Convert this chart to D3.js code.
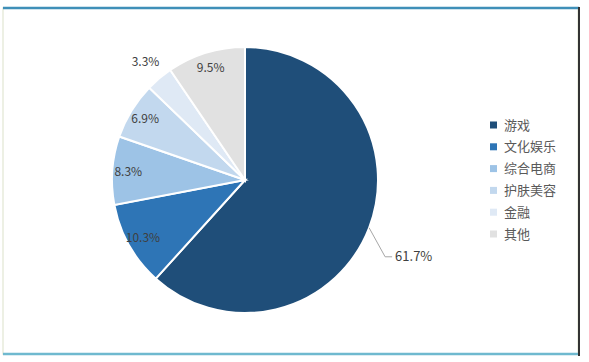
<!DOCTYPE html>
<html>
<head>
<meta charset="utf-8">
<script src="https://cdn.jsdelivr.net/npm/d3@7/dist/d3.min.js"></script>
<style>
  body { margin: 0; background: #fff; font-family: "Noto Sans CJK SC", "DejaVu Sans", sans-serif; }
  .pct { font-size: 12px; fill: #404040; }
  .legend text { font-size: 13px; fill: #595959; }
</style>
</head>
<body>
<div id="chart"></div>
<script>
  // 数据
  const categories = ['游戏', '文化娱乐', '综合电商', '护肤美容', '金融', '其他'];
  const values = [61.7, 10.3, 8.3, 6.9, 3.3, 9.5];
  const colors = ['#1f4e79', '#2e75b6', '#9dc3e6', '#c2d8ee', '#dfe9f5', '#e1e1e1'];

  const width = 589, height = 362;
  const cx = 245, cy = 180, R = 133;

  const svg = d3.select('#chart').append('svg')
    .attr('width', width)
    .attr('height', height);

  // 外框
  svg.append('rect').attr('x', 3).attr('y', 8).attr('width', 575).attr('height', 346)
    .attr('fill', '#fff').attr('stroke', '#e8ecdc').attr('stroke-width', 1.5);
  svg.append('line').attr('x1', 3).attr('x2', 579).attr('y1', 8).attr('y2', 8)
    .attr('stroke', '#3f8fb8').attr('stroke-width', 2.5);
  svg.append('line').attr('x1', 3).attr('x2', 579).attr('y1', 354).attr('y2', 354)
    .attr('stroke', '#6fb9cf').attr('stroke-width', 2.5);
  svg.append('line').attr('x1', 579).attr('x2', 579).attr('y1', 7).attr('y2', 356)
    .attr('stroke', '#333').attr('stroke-width', 2);

  const pie = d3.pie().sort(null).value(d => d);
  const arcs = pie(values);
  const arc = d3.arc().innerRadius(0).outerRadius(R);

  const g = svg.append('g').attr('transform', `translate(${cx},${cy})`);

  g.selectAll('path')
    .data(arcs)
    .enter().append('path')
    .attr('d', arc)
    .attr('fill', (d, i) => colors[i])
    .attr('stroke', '#fff')
    .attr('stroke-width', 2);

  // 标签
  function polar(a, r) { return [r * Math.sin(a), -r * Math.cos(a)]; }

  arcs.forEach((d, i) => {
    const mid = (d.startAngle + d.endAngle) / 2;
    const txt = values[i].toFixed(1) + '%';
    if (i === 0) {
      // 引导线
      const p0 = polar(mid, R);
      const p1 = [p0[0] + 16, p0[1] + 29];
      const p2 = [p1[0] + 7, p1[1]];
      g.append('polyline')
        .attr('points', [p0, p1, p2].map(p => p.join(',')).join(' '))
        .attr('fill', 'none').attr('stroke', '#a6a6a6').attr('stroke-width', 1);
      g.append('text').attr('class', 'pct')
        .attr('x', p2[0] + 3).attr('y', p2[1])
        .attr('dy', '0.35em')
        .style('font-size', '13px')
        .text(txt);
    } else {
      const r = i === 4 ? R * 1.16 : R * 0.88;
      const p = polar(mid, r);
      g.append('text').attr('class', 'pct')
        .attr('x', p[0]).attr('y', p[1])
        .attr('text-anchor', 'middle')
        .attr('dy', '0.35em')
        .text(txt);
    }
  });

  // 图例
  const legend = svg.append('g').attr('class', 'legend')
    .attr('transform', 'translate(490,125)');
  const row = legend.selectAll('g')
    .data(categories)
    .enter().append('g')
    .attr('transform', (d, i) => `translate(0,${i * 21.8})`);
  row.append('rect')
    .attr('x', 0).attr('y', -3.5).attr('width', 7).attr('height', 7)
    .attr('fill', (d, i) => colors[i]);
  row.append('text')
    .attr('x', 14).attr('dy', '0.35em')
    .text(d => d);
</script>
</body>
</html>
